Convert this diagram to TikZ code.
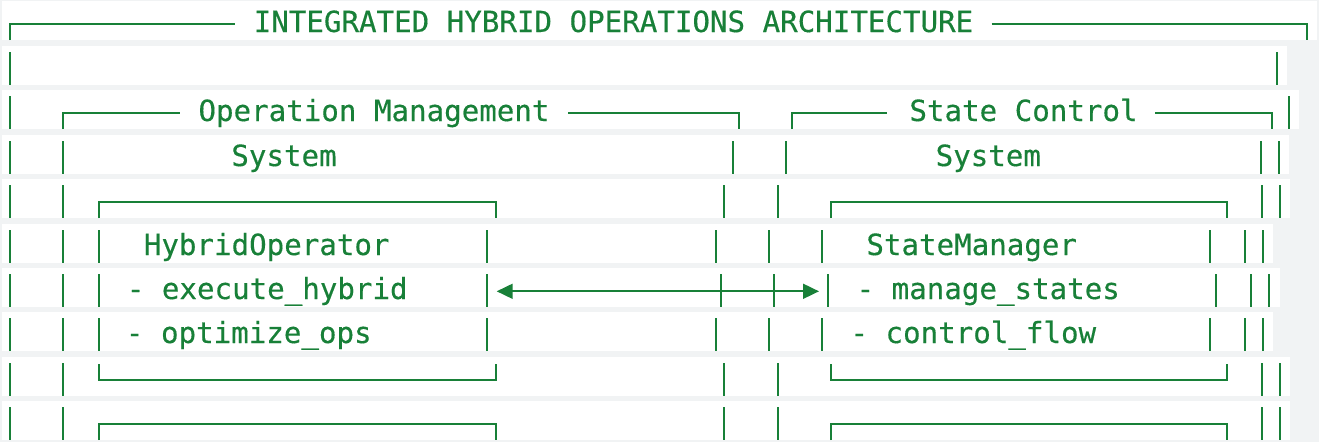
\documentclass[tikz,border=0pt]{standalone}
\usepackage{fontspec}
\newfontfamily\codefont[FakeBold=0.35]{DejaVu Sans Mono}
\usetikzlibrary{arrows.meta}
\definecolor{codegreen}{HTML}{188038}
\definecolor{codebg}{HTML}{F1F3F4}
\begin{document}
\begin{tikzpicture}[x=1pt,y=-1pt,
  txt/.style={anchor=base, inner sep=0pt, text=codegreen, font=\codefont\fontsize{29.15}{30}\selectfont},
  rule/.style={draw=codegreen, line width=2.1pt, line cap=butt, line join=miter},
  biarrow/.style={draw=codegreen, line width=1.8pt, {Triangle[length=16pt,width=15pt]}-{Triangle[length=16pt,width=15pt]}}]
\useasboundingbox (0,0) rectangle (1319,442);
\fill[codebg] (0,0) rectangle (1319,442);
% white rows
\foreach \t/\r in {1/1316.7, 46/1286.7, 90/1299.3, 135/1288.7, 179/1289.7, 224/1272.7, 268/1279.7, 312.3/1272.7, 357/1289.7, 401/1289.7}
  \fill[white] (1.7,\t) rectangle (\r,\t+39);
% vertical bars per row
\foreach \x in {10.3, 1277.3} \draw[rule] (\x,52) -- (\x,85);
\foreach \x in {10.3, 1289.3} \draw[rule] (\x,96) -- (\x,129);
\foreach \x in {10.3, 63.3, 732.7, 785.7, 1260.7, 1279} \draw[rule] (\x,141) -- (\x,174);
\foreach \x in {10.3, 63.3, 724.3, 777.7, 1262.3, 1280.3} \draw[rule] (\x,185) -- (\x,218);
\foreach \x in {10.3, 63.3, 99, 486.7, 715.7, 769.3, 822.3, 1209.7, 1245, 1263} \draw[rule] (\x,230) -- (\x,263);
\foreach \x in {10.3, 63.3, 99, 486.7, 720.7, 774.3, 828.3, 1216, 1251.3, 1269.3} \draw[rule] (\x,274) -- (\x,307);
\foreach \x in {10.3, 63.3, 99, 486.7, 715.7, 769.3, 822.3, 1209.7, 1245, 1263} \draw[rule] (\x,318.3) -- (\x,351.3);
\foreach \x in {10.3, 63.3, 724.3, 777.7, 1262.3, 1280.3} \draw[rule] (\x,363) -- (\x,396);
\foreach \x in {10.3, 63.3, 724.3, 777.7, 1262.3, 1280.3} \draw[rule] (\x,407) -- (\x,440);
% row 0 frame top
\draw[rule] (10.3,40) -- (10.3,24.3) -- (235,24.3);
\draw[rule] (991.7,24.3) -- (1307,24.3) -- (1307,40);
% row 2 group tops
\draw[rule] (63.3,129) -- (63.3,113.3) -- (180,113.3);
\draw[rule] (568.3,113.3) -- (739,113.3) -- (739,129);
\draw[rule] (791.7,129) -- (791.7,113.3) -- (886.7,113.3);
\draw[rule] (1155,113.3) -- (1271.7,113.3) -- (1271.7,129);
% row 4 box tops
\draw[rule] (99,218) -- (99,202.3) -- (495.7,202.3) -- (495.7,218);
\draw[rule] (830.7,218) -- (830.7,202.3) -- (1227,202.3) -- (1227,218);
% row 8 box bottoms
\draw[rule] (99,364) -- (99,380.3) -- (495.7,380.3) -- (495.7,364);
\draw[rule] (830.7,364) -- (830.7,380.3) -- (1227,380.3) -- (1227,364);
% row 9 box tops
\draw[rule] (99,440) -- (99,424.3) -- (495.7,424.3) -- (495.7,440);
\draw[rule] (830.7,440) -- (830.7,424.3) -- (1227,424.3) -- (1227,440);
% texts
\node[txt] (title) at (613.5,32) {INTEGRATED HYBRID OPERATIONS ARCHITECTURE};
\node[txt] (opm) at (374,121) {Operation Management};
\node[txt] (stc) at (1023.5,121) {State Control};
\node[txt] (sys1) at (284,166) {System};
\node[txt] (sys2) at (988.3,166) {System};
\node[txt] (hop) at (266.7,255) {HybridOperator};
\node[txt] (smg) at (971.7,255) {StateManager};
\node[txt] (exh) at (267.2,299) {- execute\_hybrid};
\node[txt] (mst) at (988.2,299) {- manage\_states};
\node[txt] (opt) at (248.8,343) {- optimize\_ops};
\node[txt] (cfl) at (973.3,343) {- control\_flow};
% arrow
\coordinate (arrL) at (496.7,291.3);
\coordinate (arrR) at (819,291.3);
\draw[biarrow] (arrL) -- (arrR);
\end{tikzpicture}
\end{document}
